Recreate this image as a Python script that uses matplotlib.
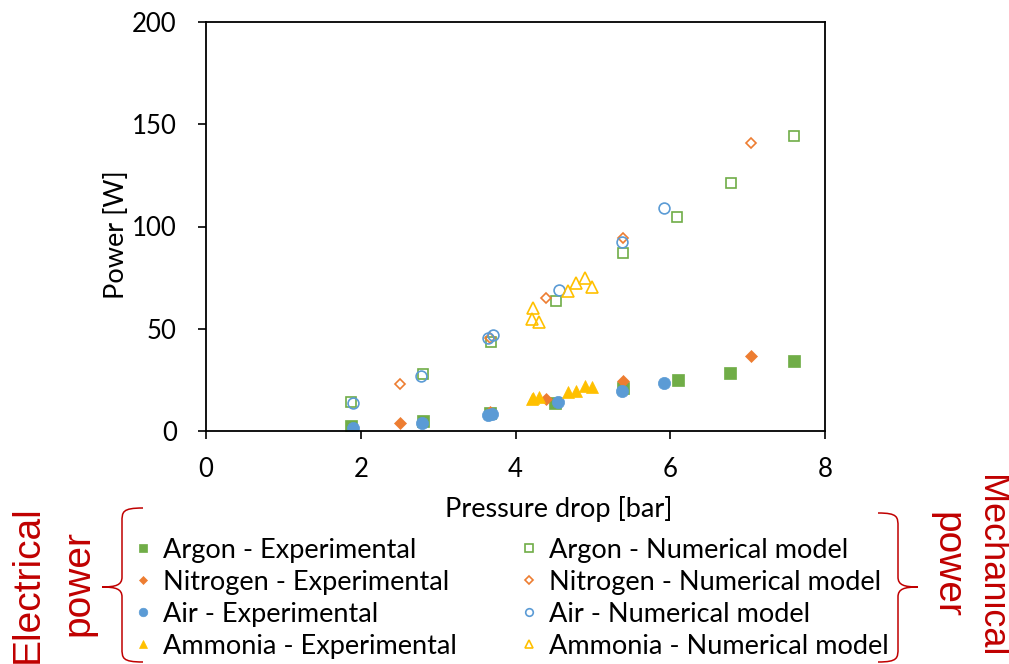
"""Power vs pressure drop: experimental (electrical) and numerical (mechanical)."""

import matplotlib
matplotlib.use("Agg")
import matplotlib.pyplot as plt
from matplotlib.path import Path
from matplotlib.patches import PathPatch

plt.rcParams["font.family"] = ["Lato", "DejaVu Sans"]

# Experimental (electrical power)
argon_exp_x = [1.87, 2.80, 3.67, 4.51, 5.39, 6.10, 6.77, 7.60]
argon_exp_y = [2.4, 4.9, 8.8, 13.7, 21.0, 25.0, 28.4, 34.2]
nitrogen_exp_x = [2.51, 3.67, 4.39, 5.39, 7.05]
nitrogen_exp_y = [3.9, 9.5, 15.6, 24.5, 36.7]
air_exp_x = [1.90, 2.79, 3.65, 3.69, 4.55, 5.37, 5.92]
air_exp_y = [1.5, 3.9, 7.8, 8.3, 14.2, 19.6, 23.5]
ammonia_exp_x = [4.22, 4.21, 4.30, 4.68, 4.78, 4.90, 4.99]
ammonia_exp_y = [16.2, 15.8, 16.4, 19.2, 19.8, 21.8, 21.3]

# Numerical model (mechanical power)
argon_num_x = [1.87, 2.80, 3.68, 4.52, 5.39, 6.09, 6.78, 7.60]
argon_num_y = [14.2, 27.8, 43.5, 63.5, 87.0, 104.6, 121.3, 144.2]
nitrogen_num_x = [2.51, 3.67, 4.40, 5.39, 7.05]
nitrogen_num_y = [23.0, 45.5, 65.0, 94.4, 141.0]
air_num_x = [1.90, 2.78, 3.65, 3.71, 4.56, 5.38, 5.92]
air_num_y = [13.7, 27.0, 45.5, 47.0, 69.0, 92.4, 109.0]
ammonia_num_x = [4.22, 4.21, 4.30, 4.68, 4.78, 4.90, 4.99]
ammonia_num_y = [60.0, 55.0, 53.5, 68.5, 72.3, 75.0, 70.5]

x_ticks = [0, 2, 4, 6, 8]
y_ticks = [0, 50, 100, 150, 200]

GREEN = "#70AD47"
ORANGE = "#ED7D31"
BLUE = "#5B9BD5"
YELLOW = "#FFC000"
RED = "#C00000"

fig = plt.figure(figsize=(10.09, 6.64), dpi=100)
ax = fig.add_axes([206 / 1009, 1 - 431 / 664, 619 / 1009, 409 / 664])

filled = [
    (argon_exp_x, argon_exp_y, "s", 8.5, GREEN, "Argon - Experimental"),
    (nitrogen_exp_x, nitrogen_exp_y, "D", 6.0, ORANGE, "Nitrogen - Experimental"),
    (air_exp_x, air_exp_y, "o", 8.8, BLUE, "Air - Experimental"),
    (ammonia_exp_x, ammonia_exp_y, "^", 9.0, YELLOW, "Ammonia - Experimental"),
]
hollow = [
    (argon_num_x, argon_num_y, "s", 7.6, GREEN, "Argon - Numerical model"),
    (nitrogen_num_x, nitrogen_num_y, "D", 5.2, ORANGE, "Nitrogen - Numerical model"),
    (air_num_x, air_num_y, "o", 7.8, BLUE, "Air - Numerical model"),
    (ammonia_num_x, ammonia_num_y, "^", 8.4, YELLOW, "Ammonia - Numerical model"),
]

handles = []
for x, y, m, ms, c, lab in filled:
    h, = ax.plot(x, y, ls="none", marker=m, ms=ms, mfc=c, mec=c, mew=0.5, label=lab)
    handles.append(h)
for x, y, m, ms, c, lab in hollow:
    h, = ax.plot(x, y, ls="none", marker=m, ms=ms, mfc="none", mec=c, mew=1.2, label=lab)
    handles.append(h)

ax.set_xlim(0, 8)
ax.set_ylim(0, 200)
ax.set_xticks(x_ticks)
ax.set_yticks(y_ticks)
ax.tick_params(direction="out", length=6, width=1.2, labelsize=18.5, pad=13, color="black")
ax.tick_params(axis="y", pad=15)
for sp in ax.spines.values():
    sp.set_linewidth(1.3)

ax.set_xlabel("Pressure drop [bar]", fontsize=19.5)
ax.xaxis.set_label_coords(0.57, -0.158)
ax.set_ylabel("Power [W]", fontsize=19.5)
ax.yaxis.set_label_coords(-0.125, 0.48)

fig.legend(
    handles=handles,
    ncol=2,
    loc="upper left",
    bbox_to_anchor=(125 / 1009, 1 - 527 / 664),
    frameon=False,
    fontsize=19.5,
    markerscale=0.7,
    handlelength=0.5,
    handletextpad=0.5,
    columnspacing=2.4,
    labelspacing=0.26,
    borderaxespad=0,
)

# braces drawn in pixel coordinates on an overlay
ov = fig.add_axes([0, 0, 1, 1], facecolor="none")
ov.set_xlim(0, 1009)
ov.set_ylim(664, 0)
ov.axis("off")


def brace(x_end, x_mid, x_tip, y_top, y_tip, y_bot):
    verts = [
        (x_end, y_top),
        (x_mid, y_top), (x_mid, y_top + 4), (x_mid, y_top + 14),
        (x_mid, y_tip - 10),
        (x_mid, y_tip - 2), (x_mid + (x_tip - x_mid) * 0.3, y_tip), (x_tip, y_tip),
        (x_mid + (x_tip - x_mid) * 0.3, y_tip), (x_mid, y_tip + 2), (x_mid, y_tip + 10),
        (x_mid, y_bot - 14),
        (x_mid, y_bot - 4), (x_mid, y_bot), (x_end, y_bot),
    ]
    codes = [Path.MOVETO] + [Path.CURVE4] * 3 + [Path.LINETO] + [Path.CURVE4] * 6 + [
        Path.LINETO] + [Path.CURVE4] * 3
    ov.add_patch(PathPatch(Path(verts, codes), fill=False, ec=RED, lw=1.1))


brace(143, 122, 102, 508, 587, 662)
brace(878, 898, 918, 513, 587, 662)

red_font = ["Liberation Sans", "DejaVu Sans"]
fig.text(28 / 1009, 1 - 584 / 664, "Electrical", rotation=90, color=RED, fontsize=28,
         family=red_font, ha="center", va="center")
fig.text(78 / 1009, 1 - 583 / 664, "power", rotation=90, color=RED, fontsize=28,
         family=red_font, ha="center", va="center")
fig.text(991 / 1009, 1 - 566 / 664, "Mechanical", rotation=270, color=RED, fontsize=26,
         family=red_font, ha="center", va="center")
fig.text(946 / 1009, 1 - 565 / 664, "power", rotation=270, color=RED, fontsize=28,
         family=red_font, ha="center", va="center")

fig.savefig("out.png", dpi=100)
plt.close(fig)
